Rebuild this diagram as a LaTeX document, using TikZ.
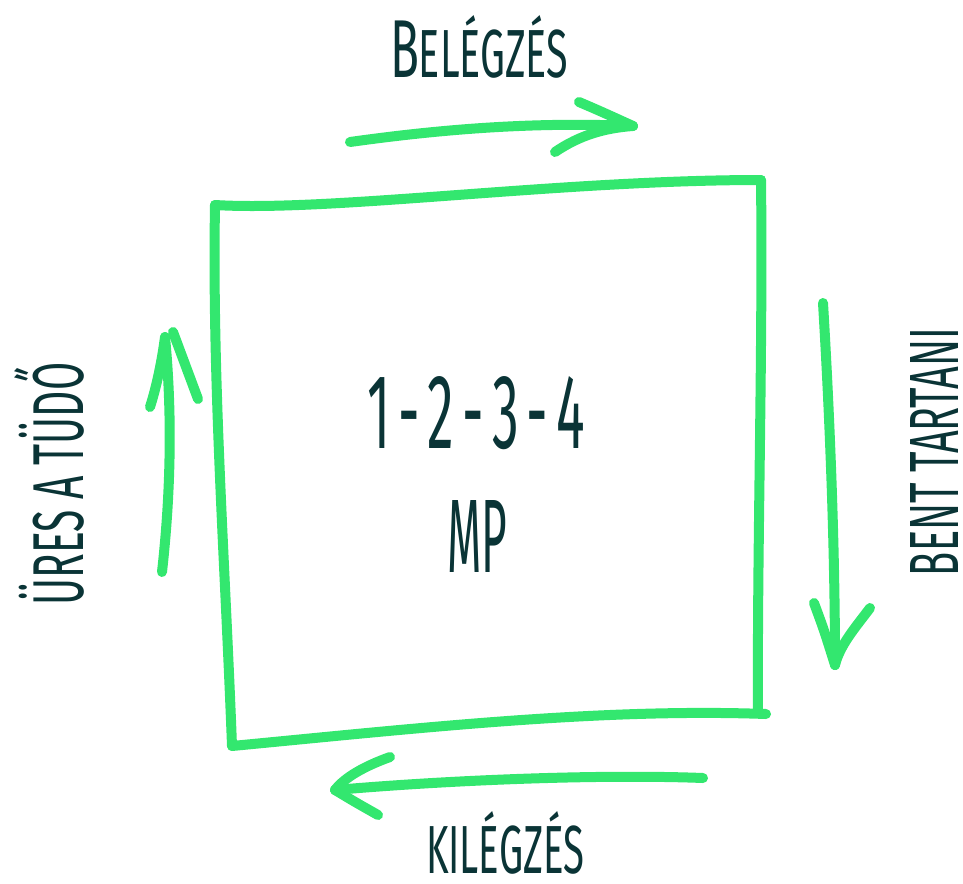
\documentclass[tikz,border=0pt]{standalone}
\usepackage{fontspec}
\setmainfont{Fira Sans}
\usepackage{graphicx}
\definecolor{lineg}{RGB}{51,231,111}
\definecolor{ink}{RGB}{10,52,54}
\newcommand\fitbox[3]{\resizebox{#1pt}{#2pt}{\fontsize{58}{60}\selectfont #3}}
\newcommand\hy{\hspace{0.15em}-\hspace{0.15em}}
\begin{document}
\begin{tikzpicture}[x=1pt,y=-1pt,line cap=round,line join=round,
  stroke/.style={draw=lineg,line width=10pt},
  lbl/.style={text=ink,inner sep=0pt,anchor=center}]
\useasboundingbox (0,0) rectangle (963,883);

% box corners
\coordinate (tl) at (215,205);
\coordinate (tr) at (761,180);
\coordinate (br) at (766,714);
\coordinate (bl) at (232,746);
\draw[stroke] (tl) .. controls (330,212) and (560,180) .. (tr);
\draw[stroke] (tr) .. controls (763,350) and (757,550) .. (758,713);
\draw[stroke] (br) .. controls (600,708) and (420,728) .. (bl);
\draw[stroke] (bl) .. controls (225,560) and (212,380) .. (tl);

% top arrow
\coordinate (ta0) at (350,142);
\coordinate (ta1) at (633,126);
\coordinate (tb1) at (579,102);
\coordinate (tb2) at (555,152);
\draw[stroke] (ta0) .. controls (450,128) and (540,122) .. (ta1);
\draw[stroke] (tb1) .. controls (600,111) .. (ta1);
\draw[stroke] (tb2) .. controls (580,135) and (605,128) .. (ta1);

% right arrow
\coordinate (ra0) at (823,303);
\coordinate (ra1) at (835,665);
\coordinate (rb1) at (814,603);
\coordinate (rb2) at (870,608);
\draw[stroke] (ra0) .. controls (830,420) and (835,550) .. (ra1);
\draw[stroke] (rb1) .. controls (824,630) .. (ra1);
\draw[stroke] (rb2) .. controls (855,628) and (840,645) .. (ra1);

% bottom arrow
\coordinate (ba0) at (703,778);
\coordinate (ba1) at (335,790);
\coordinate (bb1) at (390,757);
\coordinate (bb2) at (378,815);
\draw[stroke] (ba0) .. controls (600,774) and (450,780) .. (ba1);
\draw[stroke] (bb1) .. controls (365,766) and (345,777) .. (ba1);
\draw[stroke] (bb2) .. controls (355,802) .. (ba1);

% left arrow
\coordinate (la0) at (162,572);
\coordinate (la1) at (165,337);
\coordinate (lb1) at (150,407);
\coordinate (lb2) at (173,332);
\coordinate (lb3) at (198,399);
\draw[stroke] (la0) .. controls (170,500) and (173,420) .. (la1);
\draw[stroke] (lb1) .. controls (157,385) and (162,360) .. (la1);
\draw[stroke] (lb2) .. controls (186,365) .. (lb3);

% labels
\node[lbl] (inhale) at (479,47) {\fitbox{178}{62}{{\fontsize{70}{70}\selectfont B}ELÉGZÉS}};
\node[lbl] (count) at (476,413) {\fitbox{218}{72}{1\hy 2\hy 3\hy 4}};
\node[lbl] (mp) at (477,536) {\fitbox{60}{72}{MP}};
\node[lbl] (exhale) at (505,843) {\fitbox{158}{62}{KILÉGZÉS}};
\node[lbl,rotate=90] (empty) at (49,484) {\fitbox{243}{69}{ÜRES A TÜDŐ}};
\node[lbl,rotate=90] (hold) at (934,452) {\fitbox{248}{48}{BENT TARTANI}};
\end{tikzpicture}
\end{document}
